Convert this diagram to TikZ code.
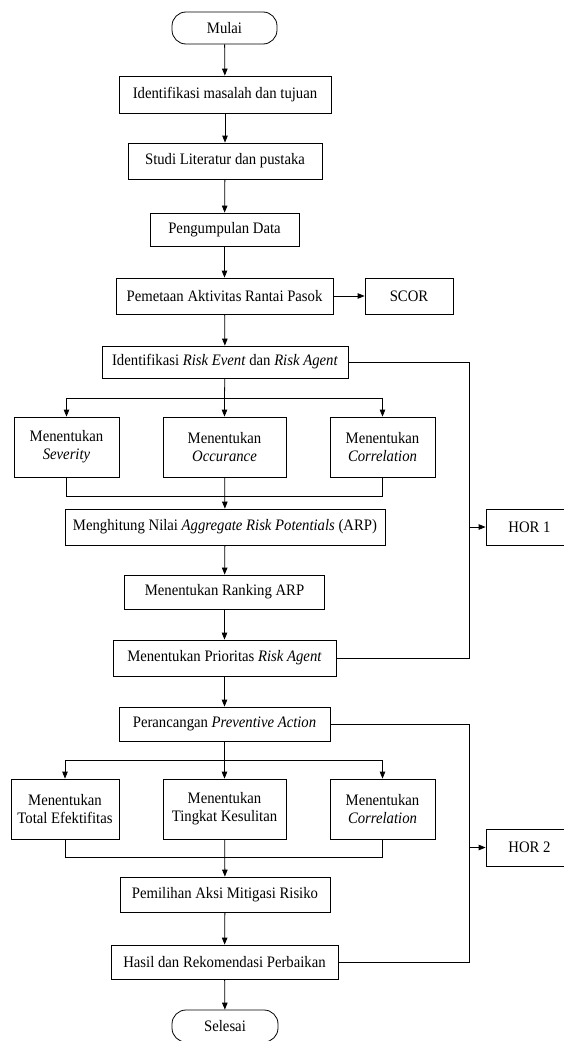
\documentclass[tikz,border=0pt]{standalone}
\usepackage{fontspec}
\setmainfont[FakeStretch=0.92]{Liberation Serif}
\usetikzlibrary{arrows.meta}
\tikzset{
  box/.style={draw, line width=0.8pt, inner sep=0pt, align=center, font=\fontsize{16}{18.3}\selectfont},
  term/.style={box, rounded corners=14pt},
  arr/.style={-{Triangle[length=7pt,width=5.5pt]}},
  ln/.style={line width=0.8pt}
}
\begin{document}
\begin{tikzpicture}[x=1pt,y=-1pt,line width=0.8pt]
\useasboundingbox (0,0) rectangle (564,1041);
% main column
\node[term, minimum width=105pt, minimum height=32pt] (start) at (224.5,28) {Mulai};
\node[box, minimum width=212pt, minimum height=37pt] (b1) at (225,94.5) {Identifikasi masalah dan tujuan};
\node[box, minimum width=194pt, minimum height=36pt] (b2) at (225,161) {Studi Literatur dan pustaka};
\node[box, minimum width=149pt, minimum height=33pt] (b3) at (224.5,229.5) {Pengumpulan Data};
\node[box, minimum width=217pt, minimum height=36pt] (b4) at (224.5,296) {Pemetaan Aktivitas Rantai Pasok};
\node[box, minimum width=88pt, minimum height=36pt] (scor) at (409,296) {SCOR};
\node[box, minimum width=246pt, minimum height=32pt] (b5) at (225,362) {Identifikasi \textit{Risk Event} dan \textit{Risk Agent}};
\node[box, minimum width=105pt, minimum height=60pt] (sev) at (66.5,447) {Menentukan\\\textit{Severity}};
\node[box, minimum width=123pt, minimum height=60pt] (occ) at (224.5,447) {Menentukan\\\textit{Occurance}};
\node[box, minimum width=105pt, minimum height=60pt] (cor1) at (382.5,447) {Menentukan\\\textit{Correlation}};
\node[box, minimum width=320pt, minimum height=36pt] (arp) at (225,527) {Menghitung Nilai \textit{Aggregate Risk Potentials} (ARP)};
\node[box, minimum width=200pt, minimum height=34pt] (rank) at (224.5,592) {Menentukan Ranking ARP};
\node[box, minimum width=223pt, minimum height=36pt] (prio) at (224.5,658) {Menentukan Prioritas \textit{Risk Agent}};
\node[box, minimum width=211pt, minimum height=34pt] (pa) at (224.5,724) {Perancangan \textit{Preventive Action}};
\node[box, minimum width=108pt, minimum height=60pt] (tef) at (65,809) {Menentukan\\Total Efektifitas};
\node[box, minimum width=123pt, minimum height=60pt] (tks) at (224.5,809) {Menentukan\\Tingkat Kesulitan};
\node[box, minimum width=105pt, minimum height=60pt] (cor2) at (382.5,809) {Menentukan\\\textit{Correlation}};
\node[box, minimum width=210pt, minimum height=35pt] (pam) at (225,894.5) {Pemilihan Aksi Mitigasi Risiko};
\node[box, minimum width=227pt, minimum height=34pt] (hasil) at (224.5,962) {Hasil dan Rekomendasi Perbaikan};
\node[term, minimum width=106pt, minimum height=32pt] (end) at (225,1026) {Selesai};
\node[box, minimum width=87pt, minimum height=36pt] (hor1) at (529.5,527) {HOR 1};
\node[box, minimum width=87pt, minimum height=37pt] (hor2) at (529.5,847.5) {HOR 2};
% junction points
\coordinate (j1) at (224.5,398);
\coordinate (m1) at (224.5,496);
\coordinate (j2) at (224.5,760);
\coordinate (m2) at (224.5,857);
\coordinate (r1) at (469,527);
\coordinate (r2) at (469,847.5);
% connectors
\draw[arr] (start) -- (b1);
\draw[arr] (b1) -- (b2);
\draw[arr] (b2) -- (b3);
\draw[arr] (b3) -- (b4);
\draw[arr] (b4) -- (scor);
\draw[arr] (b4) -- (b5);
\draw (b5) -- (j1);
\draw[arr] (j1) -| (sev);
\draw[arr] (j1) -- (occ);
\draw[arr] (j1) -| (cor1);
\draw (sev) |- (m1);
\draw (cor1) |- (m1);
\draw[arr] (occ) -- (arp);
\draw[arr] (arp) -- (rank);
\draw[arr] (rank) -- (prio);
\draw[arr] (prio) -- (pa);
\draw (pa) -- (j2);
\draw[arr] (j2) -| (tef);
\draw[arr] (j2) -- (tks);
\draw[arr] (j2) -| (cor2);
\draw (tef) |- (m2);
\draw (cor2) |- (m2);
\draw[arr] (tks) -- (pam);
\draw[arr] (pam) -- (hasil);
\draw[arr] (hasil) -- (end);
\draw (b5.east) -| (r1);
\draw (prio.east) -| (r1);
\draw[arr] (r1) -- (hor1);
\draw (pa.east) -| (r2);
\draw (hasil.east) -| (r2);
\draw[arr] (r2) -- (hor2);
\end{tikzpicture}
\end{document}
